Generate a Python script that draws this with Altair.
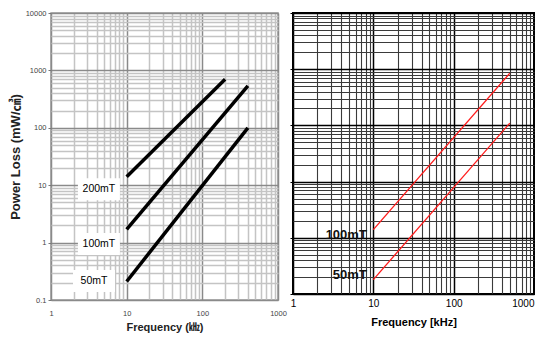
import altair as alt
import pandas as pd

# ---------------- data ----------------
left_series = ["200mT", "100mT", "50mT"]
left_freq = {"200mT": [10, 200], "100mT": [10, 400], "50mT": [10, 400]}
left_loss = {"200mT": [14, 700], "100mT": [1.7, 540], "50mT": [0.21, 100]}
left_label_x = [4.3, 4.3, 3.7]
left_label_y = [8.5, 0.95, 0.215]

right_series = ["100mT", "50mT"]
right_freq = {"100mT": [10, 500], "50mT": [10, 500]}
right_loss = {"100mT": [1.4, 850], "50mT": [0.18, 110]}
right_label_x = [8.3, 8.3]
right_label_y = [1.13, 0.217]

x_ticks = [1, 2, 3, 4, 5, 6, 7, 8, 9, 10, 20, 30, 40, 50, 60, 70, 80, 90,
           100, 200, 300, 400, 500, 600, 700, 800, 900, 1000]
y_ticks = [0.1, 0.2, 0.3, 0.4, 0.5, 0.6, 0.7, 0.8, 0.9,
           1, 2, 3, 4, 5, 6, 7, 8, 9, 10, 20, 30, 40, 50, 60, 70, 80, 90,
           100, 200, 300, 400, 500, 600, 700, 800, 900,
           1000, 2000, 3000, 4000, 5000, 6000, 7000, 8000, 9000, 10000]
x_major = [1, 10, 100, 1000]
y_major = [0.1, 1, 10, 100, 1000, 10000]

# ---------------- tables ----------------
def lines_df(series, freq, loss):
    rows = []
    for s in series:
        for f, v in zip(freq[s], loss[s]):
            rows.append({"series": s, "freq": f, "loss": v})
    return pd.DataFrame(rows)

left_lines = lines_df(left_series, left_freq, left_loss)
right_lines = lines_df(right_series, right_freq, right_loss)
left_labels = pd.DataFrame({"series": left_series, "freq": left_label_x, "loss": left_label_y})
right_labels = pd.DataFrame({"series": right_series, "freq": right_label_x, "loss": right_label_y})

xmaj = "indexof(" + str(x_major) + ", datum.value) >= 0"
ymaj = "indexof(" + str(y_major) + ", datum.value) >= 0"

xs = alt.Scale(type="log", domain=[1, 1000], nice=False)
ys = alt.Scale(type="log", domain=[0.1, 10000], nice=False)

SANS = "Liberation Sans, Arial, sans-serif"
TITLE_FONT = "Liberation Sans, 'Noto Sans CJK KR', sans-serif"

# ---------------- left panel ----------------
lx_axis = alt.Axis(
    values=x_ticks, labelExpr=xmaj + " ? format(datum.value, '~g') : ''",
    grid=True, gridColor={"condition": {"test": xmaj, "value": "#8a8a8a"}, "value": "#c4c4c4"},
    gridWidth=1.5, ticks=False, domain=False, labelOverlap=False, labelFlush=False, labelBound=False,
    labelFont=SANS, labelFontSize=7.5, labelColor="#444", labelPadding=9,
    title="Frequency (㎑)", titleFont=TITLE_FONT, titleFontSize=11, titleFontWeight="bold",
    titleColor="#222", titlePadding=5,
)
ly_axis = alt.Axis(
    values=y_ticks, labelExpr=ymaj + " ? format(datum.value, '~g') : ''",
    grid=True, gridColor={"condition": {"test": ymaj, "value": "#8a8a8a"}, "value": "#c4c4c4"},
    gridWidth=1.5, ticks=True, tickSize=3,
    tickColor={"condition": {"test": ymaj, "value": "#777"}, "value": "transparent"},
    domain=False, labelOverlap=False, labelFlush=False, labelBound=False,
    labelFont=SANS, labelFontSize=7.5, labelColor="#444", labelPadding=2,
    title="Power Loss (mW/㎤)", titleFont=TITLE_FONT, titleFontSize=13, titleFontWeight="bold",
    titleColor="#222", titlePadding=3,
)

lx = alt.X("freq:Q", scale=xs, axis=lx_axis)
ly = alt.Y("loss:Q", scale=ys, axis=ly_axis)

left_l = alt.Chart(left_lines).mark_line(color="black", strokeWidth=3.5).encode(
    x=lx, y=ly, detail="series:N")
left_box = alt.Chart(left_labels).mark_rect(color="white", width=42, height=22).encode(x=lx, y=ly)
left_txt = alt.Chart(left_labels).mark_text(
    font=SANS, fontSize=10.5, color="#000", align="center", baseline="middle"
).encode(x=lx, y=ly, text="series:N")

left = alt.layer(left_box, left_l, left_txt).properties(
    width=227, height=287, view=alt.ViewBackground(stroke="#999", strokeWidth=1.5))

# ---------------- right panel ----------------
rx_axis = alt.Axis(
    values=x_ticks, labelExpr=xmaj + " ? format(datum.value, '~g') : ''",
    labelAlign={"condition": {"test": "datum.value == 1000", "value": "right"}, "value": "center"},
    grid=True, gridColor={"condition": {"test": xmaj, "value": "#000"}, "value": "#3a3a3a"},
    gridWidth={"condition": {"test": xmaj, "value": 1.5}, "value": 1.1},
    ticks=False, domain=False, labelOverlap=False, labelFlush=False, labelBound=False,
    labelFont=SANS, labelFontSize=10, labelColor="#000", labelPadding=4,
    title="Frequency [kHz]", titleFont=SANS, titleFontSize=11, titleFontWeight="bold",
    titleColor="#000", titlePadding=8,
)
ry_axis = alt.Axis(
    values=y_ticks, labels=False,
    grid=True, gridColor={"condition": {"test": ymaj, "value": "#000"}, "value": "#3a3a3a"},
    gridWidth={"condition": {"test": ymaj, "value": 1.5}, "value": 1.1},
    ticks=True, tickSize=3, tickColor={"condition": {"test": ymaj, "value": "#000"}, "value": "transparent"},
    domain=False, title=None,
)
rx = alt.X("freq:Q", scale=xs, axis=rx_axis)
ry = alt.Y("loss:Q", scale=ys, axis=ry_axis)

right_l = alt.Chart(right_lines).mark_line(color="#ff1a1a", strokeWidth=1.3).encode(
    x=rx, y=ry, detail="series:N")
right_txt = alt.Chart(right_labels).mark_text(
    font=SANS, fontSize=13, fontWeight="bold", color="#111", align="right", baseline="middle"
).encode(x=rx, y=ry, text="series:N")

right = alt.layer(right_l, right_txt).properties(
    width=241, height=281, view=alt.ViewBackground(stroke="#000", strokeWidth=2))

chart = alt.hconcat(left, right, spacing=15, bounds="flush").properties(
    padding={"left": 0, "top": 0, "right": 0, "bottom": 0}
).configure(background="white")

chart.save("out.html", embed_options={"renderer": "svg", "actions": False})
